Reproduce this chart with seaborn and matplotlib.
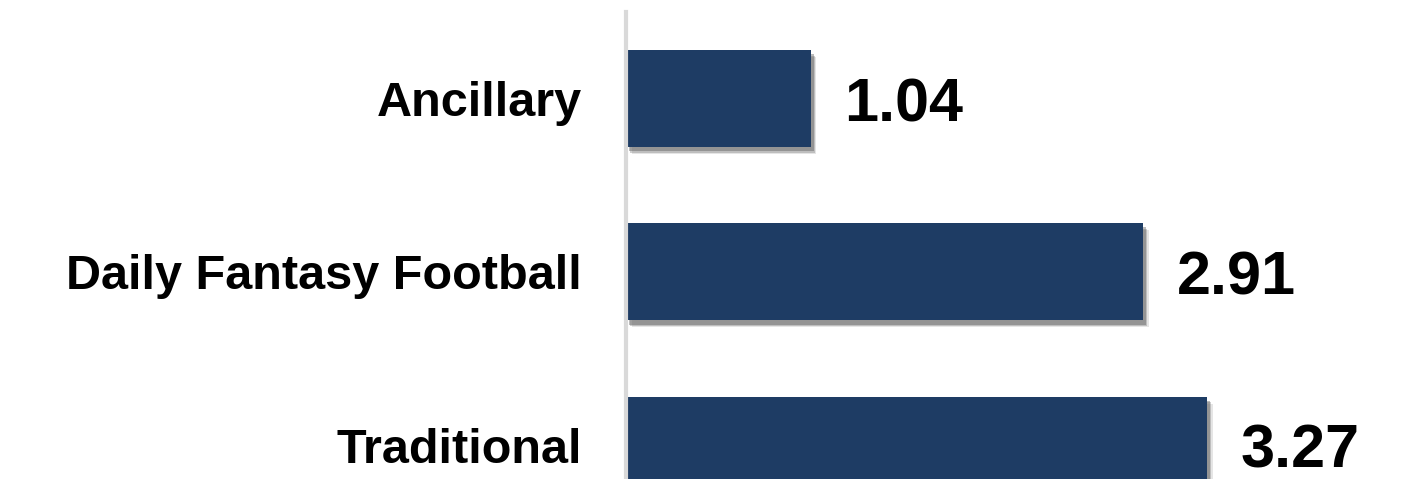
import matplotlib
matplotlib.use("Agg")
import matplotlib.pyplot as plt
import matplotlib.patheffects as pe
import seaborn as sns
import pandas as pd

categories = ["Ancillary", "Daily Fantasy Football", "Traditional"]
values = [1.04, 2.91, 3.27]
value_labels = ["1.04", "2.91", "3.27"]

sns.set_style("white")
plt.rcParams['font.family'] = ['Liberation Sans', 'DejaVu Sans']

df = pd.DataFrame({"category": categories, "value": values})

fig = plt.figure(figsize=(14.16, 4.79), dpi=100)
ax = fig.add_axes([626/1416, -0.110, 711/1416, 1.085])

sns.barplot(data=df, x="value", y="category", order=categories, orient="h",
            color="#1E3C64", width=0.56, saturation=1, linewidth=0, ax=ax)

for p in ax.patches:
    p.set_path_effects([
        pe.SimplePatchShadow(offset=(4, -5), shadow_rgbFace="#999999", alpha=0.25),
        pe.SimplePatchShadow(offset=(3, -4), shadow_rgbFace="#777777", alpha=0.35),
        pe.SimplePatchShadow(offset=(2, -3), shadow_rgbFace="#555555", alpha=0.4),
        pe.Normal()])

ax.set_xlim(0, 4)
ax.set_ylim(2.5, -0.5)
ax.set_xlabel("")
ax.set_ylabel("")
ax.set_xticks([])
for s in ["top", "right", "bottom"]:
    ax.spines[s].set_visible(False)
ax.spines["left"].set_color("#D9D9D9")
ax.spines["left"].set_linewidth(3)
ax.tick_params(axis="y", length=0, pad=32)
for lab in ax.get_yticklabels():
    lab.set_fontsize(35)
    lab.set_fontweight("bold")
    lab.set_color("black")

for i, (v, t) in enumerate(zip(values, value_labels)):
    ax.annotate(t, xy=(v, i), xytext=(24, -5), textcoords="offset points",
                ha="left", va="center", fontsize=44, fontweight="bold", color="black")

fig.savefig("out.png", dpi=100)
